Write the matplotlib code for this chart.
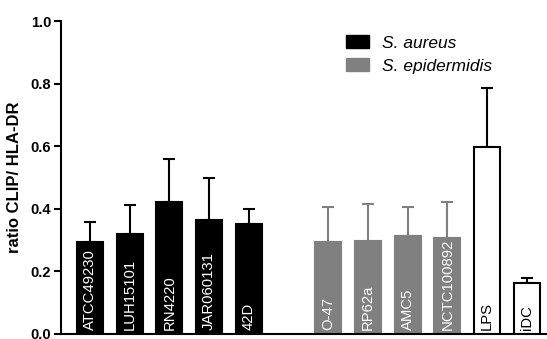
import matplotlib
matplotlib.use("Agg")
import matplotlib.pyplot as plt
from matplotlib.patches import Patch

plt.rcParams['font.family'] = ['Liberation Sans', 'DejaVu Sans']

categories = ["ATCC49230", "LUH15101", "RN4220", "JAR060131", "42D",
              "O-47", "RP62a", "AMC5", "NCTC100892", "LPS", "iDC"]
groups = ["aureus"] * 5 + ["epi"] * 4 + ["ctrl"] * 2
positions = [0, 1, 2, 3, 4, 6, 7, 8, 9, 10, 11]
values = [0.295, 0.318, 0.422, 0.365, 0.350,
          0.295, 0.298, 0.314, 0.308, 0.597, 0.162]
errors = [0.064, 0.094, 0.138, 0.135, 0.048,
          0.110, 0.116, 0.093, 0.115, 0.188, 0.016]
legend_labels = ["S. aureus", "S. epidermidis"]
yticks = [0.0, 0.2, 0.4, 0.6, 0.8, 1.0]

fig = plt.figure(figsize=(5.47, 3.39), dpi=100)
ax = fig.add_axes([0.1115, 0.01475, 0.8885, 0.923])

gray = "#808080"
for pos, val, err, grp, lab in zip(positions, values, errors, groups, categories):
    if grp == "aureus":
        fc, ec, tc = "black", "black", "white"
    elif grp == "epi":
        fc, ec, tc = gray, gray, "white"
    else:
        fc, ec, tc = "white", "black", "black"
    ax.bar(pos, val, width=0.655, color=fc, edgecolor=ec, linewidth=1.5, zorder=2)
    ax.errorbar(pos, val, yerr=[[0], [err]], fmt='none', ecolor=ec,
                elinewidth=1.5, capsize=4.5, capthick=1.5, zorder=1)
    ax.text(pos, 0.012, lab, rotation=90, ha='center', va='bottom',
            color=tc, fontsize=10.7, zorder=3)

ax.set_xlim(-0.73, 11.51)
ax.set_ylim(0, 1.0)
ax.set_yticks(yticks)
ax.set_yticklabels([f"{t:.1f}" for t in yticks], fontweight='bold', fontsize=10.5)
ax.set_xticks([])
ax.tick_params(axis='y', length=5, width=1.5, pad=2)
for s in ['top', 'right']:
    ax.spines[s].set_visible(False)
for s in ['left', 'bottom']:
    ax.spines[s].set_linewidth(1.5)
ax.spines['bottom'].set_clip_on(False)
ax.set_ylabel("ratio CLIP/ HLA-DR", fontweight='bold', fontsize=12, labelpad=6)

handles = [Patch(facecolor='black', edgecolor='black'),
           Patch(facecolor=gray, edgecolor=gray)]
leg = ax.legend(handles, legend_labels, loc='upper left',
                bbox_to_anchor=(0.555, 1.005), frameon=False,
                prop={'style': 'italic', 'size': 12.5},
                handlelength=1.3, handleheight=0.75, handletextpad=0.75,
                labelspacing=0.45)

fig.savefig("out.png", dpi=100)
